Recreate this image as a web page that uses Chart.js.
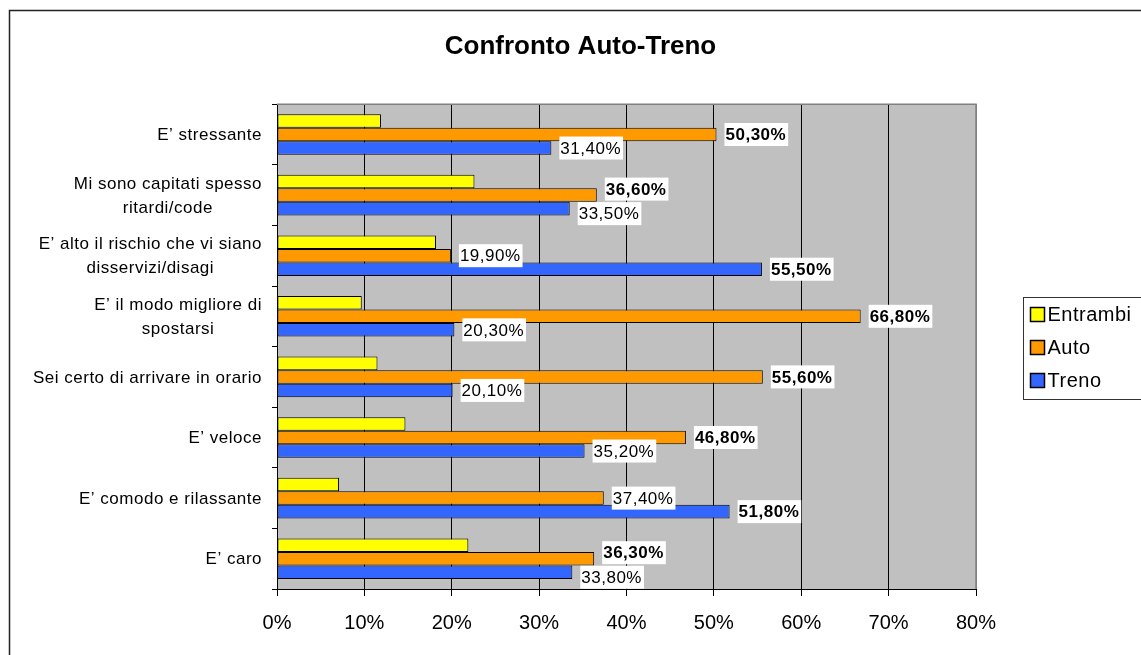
<!DOCTYPE html>
<html lang="it">
<head>
<meta charset="utf-8">
<title>Confronto Auto-Treno</title>
<script src="https://cdn.jsdelivr.net/npm/chart.js@4.4.1/dist/chart.umd.min.js"></script>
<style>
  html, body { margin: 0; padding: 0; background: #fff; }
  canvas { display: block; }
</style>
</head>
<body>
<canvas id="chart" width="1141" height="655"></canvas>
<script>
const categories = [
  ["E’ stressante"],
  ["Mi sono capitati spesso", "ritardi/code"],
  ["E’ alto il rischio che vi siano", "disservizi/disagi"],
  ["E’ il modo migliore di", "spostarsi"],
  ["Sei certo di arrivare in orario"],
  ["E’ veloce"],
  ["E’ comodo e rilassante"],
  ["E’ caro"]
];
const seriesNames = ["Entrambi", "Auto", "Treno"];
const entrambi = [11.9, 22.6, 18.2, 9.7, 11.5, 14.7, 7.1, 21.9];
const auto = [50.3, 36.6, 19.9, 66.8, 55.6, 46.8, 37.4, 36.3];
const treno = [31.4, 33.5, 55.5, 20.3, 20.1, 35.2, 51.8, 33.8];
const seriesColors = ["#ffff00", "#ff9900", "#3366ff"];

const FONT = "'Liberation Sans', Arial, Helvetica, sans-serif";
Chart.defaults.font.family = FONT;
Chart.defaults.color = "#000";

// white page, outer frame, grey plot area
const frame = {
  id: "frame",
  beforeDraw(chart) {
    const { ctx, chartArea: a } = chart;
    ctx.save();
    ctx.fillStyle = "#fff";
    ctx.fillRect(0, 0, chart.width, chart.height);
    ctx.strokeStyle = "#222";
    ctx.lineWidth = 1.5;
    ctx.strokeRect(9.5, 10.5, chart.width + 20, chart.height + 20);
    ctx.fillStyle = "#c0c0c0";
    ctx.fillRect(a.left, a.top, a.right - a.left, a.bottom - a.top);
    ctx.restore();
  },
  beforeDatasetsDraw(chart) {
    const { ctx, chartArea: a } = chart;
    ctx.save();
    ctx.strokeStyle = "#808080";
    ctx.lineWidth = 1.5;
    ctx.beginPath();
    ctx.moveTo(a.left, a.top);
    ctx.lineTo(a.right, a.top);
    ctx.lineTo(a.right, a.bottom);
    ctx.stroke();
    ctx.restore();
  }
};

// category labels: block right aligned, lines centred inside the block
const categoryLabels = {
  id: "categoryLabels",
  afterDraw(chart) {
    const { ctx } = chart;
    const y = chart.scales.y;
    const right = chart.chartArea.left - 15;
    ctx.save();
    ctx.font = `17px ${FONT}`;
    ctx.letterSpacing = "0.5px";
    ctx.fillStyle = "#000";
    ctx.textAlign = "center";
    ctx.textBaseline = "middle";
    chart.data.labels.forEach((lines, i) => {
      const cy = y.getPixelForValue(i) + 1;
      const widest = Math.max(...lines.map((l) => ctx.measureText(l).width));
      const cx = right - widest / 2;
      lines.forEach((line, k) => {
        ctx.fillText(line, cx, cy + (k - (lines.length - 1) / 2) * 24);
      });
    });
    ctx.restore();
  }
};

// value labels for Auto and Treno, the larger one in bold;
// when the two boxes collide they are pushed apart like Excel does
const valueLabels = {
  id: "valueLabels",
  afterDatasetsDraw(chart) {
    const { ctx } = chart;
    const a = chart.data.datasets[1].data;
    const t = chart.data.datasets[2].data;
    const metaA = chart.getDatasetMeta(1).data;
    const metaT = chart.getDatasetMeta(2).data;
    const fmt = (v) => v.toFixed(2).replace(".", ",") + "%";
    ctx.save();
    ctx.textBaseline = "middle";
    ctx.letterSpacing = "0.5px";
    a.forEach((_, i) => {
      const items = [
        { v: a[i], bar: metaA[i], bold: a[i] > t[i] },
        { v: t[i], bar: metaT[i], bold: t[i] > a[i] }
      ];
      items.forEach((it) => {
        it.text = fmt(it.v);
        ctx.font = `${it.bold ? "bold " : ""}17px ${FONT}`;
        it.w = ctx.measureText(it.text).width + 3;
        it.x = it.bar.x + 8;
        it.y = it.bar.y;
      });
      const [up, down] = items;
      if (up.x < down.x + down.w && down.x < up.x + up.w) {
        up.y -= 6;
        down.y += 5;
      }
      items.forEach((it) => {
        ctx.font = `${it.bold ? "bold " : ""}17px ${FONT}`;
        ctx.fillStyle = "#fff";
        ctx.fillRect(it.x, it.y - 11.5, it.w, 23);
        ctx.fillStyle = "#000";
        ctx.fillText(it.text, it.x + 1, it.y + 1);
      });
    });
    ctx.restore();
  }
};

// boxed legend on the right
const legendBox = {
  id: "legendBox",
  afterDraw(chart) {
    const { ctx, chartArea: a } = chart;
    const left = a.right + 47.5;
    const top = Math.round((a.top + a.bottom) / 2 - 50) + 0.5;
    ctx.save();
    ctx.strokeStyle = "#333";
    ctx.lineWidth = 1;
    ctx.strokeRect(left, top, 200, 102);
    ctx.font = `20px ${FONT}`;
    ctx.letterSpacing = "0.5px";
    ctx.textBaseline = "middle";
    chart.data.datasets.forEach((ds, i) => {
      const cy = top + 17 + i * 33;
      ctx.fillStyle = ds.backgroundColor;
      ctx.fillRect(left + 7, cy - 7, 14, 14);
      ctx.strokeStyle = "#000";
      ctx.lineWidth = 1.5;
      ctx.strokeRect(left + 7, cy - 7, 14, 14);
      ctx.fillStyle = "#000";
      ctx.fillText(ds.label, left + 24, cy + 1);
    });
    ctx.restore();
  }
};

new Chart(document.getElementById("chart"), {
  type: "bar",
  data: {
    labels: categories,
    datasets: [
      { label: seriesNames[0], data: entrambi, backgroundColor: seriesColors[0] },
      { label: seriesNames[1], data: auto, backgroundColor: seriesColors[1] },
      { label: seriesNames[2], data: treno, backgroundColor: seriesColors[2] }
    ]
  },
  options: {
    indexAxis: "y",
    responsive: false,
    animation: false,
    datasets: {
      bar: {
        borderColor: "#000",
        borderWidth: 1,
        borderSkipped: false,
        categoryPercentage: 0.67,
        barPercentage: 1
      }
    },
    layout: { padding: { left: 20, right: 0, top: 0, bottom: 0 } },
    plugins: {
      legend: { display: false },
      tooltip: { enabled: false },
      title: {
        display: true,
        text: "Confronto Auto-Treno",
        color: "#000",
        font: { size: 26, weight: "bold" },
        padding: { top: 31, bottom: 42 }
      }
    },
    scales: {
      x: {
        type: "linear",
        position: "bottom",
        min: 0,
        max: 80,
        ticks: {
          stepSize: 10,
          callback: (v) => v + "%",
          color: "#000",
          font: { size: 20 },
          padding: 15
        },
        grid: {
          color: (ctx) => (ctx.tick && ctx.tick.value === 80 ? "#808080" : "#000"),
          tickColor: "#000",
          tickLength: 7,
          lineWidth: 1
        },
        border: { color: "#000", width: 1 },
        afterFit: (s) => { s.height = 66; }
      },
      y: {
        type: "category",
        position: "left",
        ticks: { display: false },
        grid: { drawOnChartArea: false, color: "#000", tickLength: 5, offset: true },
        border: { color: "#000", width: 1 },
        afterFit: (s) => { s.width = 257; }
      },
      pad: {
        type: "linear",
        position: "right",
        display: true,
        grid: { display: false },
        ticks: { display: false },
        border: { display: false },
        afterFit: (s) => { s.width = 165; }
      }
    }
  },
  plugins: [frame, categoryLabels, valueLabels, legendBox]
});
</script>
</body>
</html>
